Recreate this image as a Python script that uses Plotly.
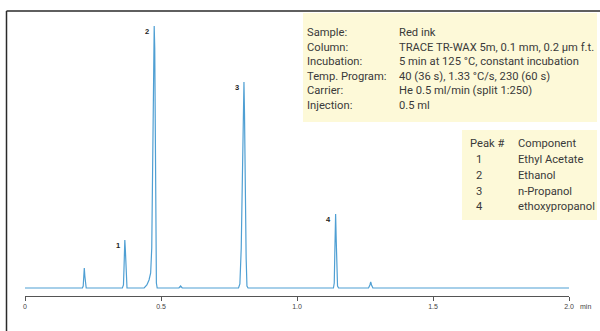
import plotly.graph_objects as go

# Chromatogram trace (time in min, signal in arbitrary units)
time = [0.0, 0.211, 0.214, 0.216, 0.218, 0.220, 0.222, 0.225,
        0.358, 0.362, 0.364, 0.366, 0.367, 0.369, 0.370, 0.372, 0.375,
        0.438, 0.448, 0.456, 0.462, 0.466, 0.469, 0.472, 0.474, 0.475, 0.477, 0.479, 0.481, 0.483, 0.486,
        0.566, 0.572, 0.578,
        0.785, 0.790, 0.795, 0.799, 0.802, 0.805, 0.807, 0.809, 0.811, 0.813, 0.816, 0.820,
        1.134, 1.137, 1.139, 1.141, 1.142, 1.144, 1.146, 1.149, 1.153,
        1.263, 1.268, 1.271, 1.274, 1.279,
        2.0]
signal = [0, 0, 2, 12, 20, 12, 2, 0,
          0, 3, 20, 45, 48, 38, 30, 5, 0,
          0, 3, 8, 15, 40, 120, 210, 255, 262, 240, 150, 40, 5, 0,
          0, 2, 0,
          0, 4, 40, 130, 190, 206, 175, 118, 110, 30, 2, 0,
          0, 5, 35, 70, 74, 50, 15, 2, 0,
          0, 3, 6, 3, 0,
          0]

peak_ids = ["1", "2", "3", "4"]
peak_times = [0.367, 0.475, 0.805, 1.142]
peak_heights = [48, 262, 206, 74]

tick_vals = [0, 0.5, 1.0, 1.5, 2.0]
tick_text = ["0", "0.5", "1.0", "1.5", "2.0"]

cond_labels = ["Sample:", "Column:", "Incubation:", "Temp. Program:", "Carrier:", "Injection:"]
cond_values = ["Red ink", "TRACE TR-WAX 5m, 0.1 mm, 0.2 µm f.t.",
               "5 min at 125 °C, constant incubation",
               "40 (36 s), 1.33 °C/s, 230 (60 s)",
               "He 0.5 ml/min (split 1:250)", "0.5 ml"]
comp_header = ["Peak #", "Component"]
comp_numbers = ["1", "2", "3", "4"]
comp_names = ["Ethyl Acetate", "Ethanol", "n-Propanol", "ethoxypropanol"]

W, H = 600, 331
L, R, T, B = 25, 31, 11, 35
pw, ph = W - L - R, H - T - B


def px(x):
    return (x - L) / pw


def py(y):
    return (H - B - y) / ph


FONT = "Roboto, sans-serif"
FS = 11.2
TXT = "#3a3a3a"

fig = go.Figure()
fig.add_trace(go.Scatter(x=time, y=signal, mode="lines",
                         line=dict(color="#4f9fd3", width=1.2),
                         hoverinfo="skip", showlegend=False))

shapes = [
    # info boxes
    dict(type="rect", xref="paper", yref="paper", x0=px(303), x1=px(597), y0=py(122), y1=py(13),
         fillcolor="#fdf9d8", line=dict(width=0), layer="below"),
    dict(type="rect", xref="paper", yref="paper", x0=px(462), x1=px(597), y0=py(220), y1=py(130),
         fillcolor="#fdf9d8", line=dict(width=0), layer="below"),
    # frame lines
    dict(type="line", xref="paper", yref="paper", x0=px(6.5), x1=px(600), y0=py(11), y1=py(11),
         line=dict(color="#2a2a2a", width=1.5)),
    dict(type="line", xref="paper", yref="paper", x0=px(6.5), x1=px(6.5), y0=py(11), y1=py(331),
         line=dict(color="#2a2a2a", width=1.5)),
]

annotations = []
for pid, t, h in zip(peak_ids, peak_times, peak_heights):
    annotations.append(dict(x=t, y=h, xref="x", yref="y", text="<b>" + pid + "</b>",
                            showarrow=False, xanchor="right", yanchor="top",
                            xshift=-3, yshift=1, font=dict(size=7.5, color="#222", family="Arial")))

annotations.append(dict(x=px(305), y=py(23.5), xref="paper", yref="paper",
                        text="<br>".join(cond_labels), showarrow=False, align="left",
                        xanchor="left", yanchor="top", font=dict(size=FS, color=TXT, family=FONT)))
annotations.append(dict(x=px(397), y=py(23.5), xref="paper", yref="paper",
                        text="<br>".join(cond_values), showarrow=False, align="left",
                        xanchor="left", yanchor="top", font=dict(size=FS, color=TXT, family=FONT)))

rows_num = [comp_header[0]] + comp_numbers
rows_name = [comp_header[1]] + comp_names
for i, (a, b) in enumerate(zip(rows_num, rows_name)):
    yc = 143 + 16 * i
    annotations.append(dict(x=px(468) if i == 0 else px(479), y=py(yc), xref="paper", yref="paper",
                            text=a, showarrow=False, xanchor="left" if i == 0 else "center",
                            yanchor="middle", font=dict(size=FS, color=TXT, family=FONT)))
    annotations.append(dict(x=px(516), y=py(yc), xref="paper", yref="paper",
                            text=b, showarrow=False, xanchor="left",
                            yanchor="middle", font=dict(size=FS, color=TXT, family=FONT)))

annotations.append(dict(x=px(578), y=py(306), xref="paper", yref="paper", text="min",
                        showarrow=False, xanchor="left", yanchor="middle",
                        font=dict(size=7, color="#444", family="Arial")))

fig.update_layout(
    width=W, height=H, margin=dict(l=L, r=R, t=T, b=B),
    paper_bgcolor="white", plot_bgcolor="white",
    xaxis=dict(range=[0, 2.0], tickvals=tick_vals, ticktext=tick_text,
               showgrid=False, zeroline=False, showline=True, linecolor="#555", linewidth=1,
               ticks="outside", ticklen=4, tickcolor="#555", tickwidth=1,
               tickfont=dict(size=7, color="#444", family="Arial")),
    yaxis=dict(range=[-8, 277], visible=False),
    shapes=shapes, annotations=annotations,
)

fig.write_html("out.html")
